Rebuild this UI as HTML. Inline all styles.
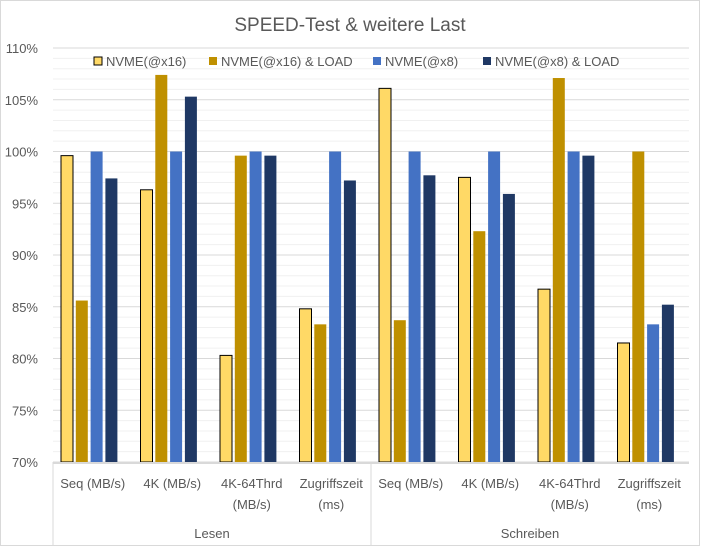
<!DOCTYPE html>
<html><head><meta charset="utf-8"><style>
body{margin:0;background:#fff;}
svg{display:block;font-family:"Liberation Sans",sans-serif;}
</style></head><body>
<svg id="c" width="701" height="548">
<rect x="0.5" y="0.5" width="699" height="545" fill="#fff" stroke="#d9d9d9"/>
<text x="350" y="31" text-anchor="middle" font-size="19" fill="#595959">SPEED-Test &amp; weitere Last</text>
<g id="grid"></g><g id="bars"></g><g id="axes"></g><g id="legend"></g>
</svg>
<script>
const categories=["Seq (MB/s)","4K (MB/s)","4K-64Thrd|(MB/s)","Zugriffszeit|(ms)","Seq (MB/s)","4K (MB/s)","4K-64Thrd|(MB/s)","Zugriffszeit|(ms)"];
const groups=["Lesen","Schreiben"];
const seriesNames=["NVME(@x16)","NVME(@x16) & LOAD","NVME(@x8)","NVME(@x8) & LOAD"];
const s1=[99.6,96.3,80.3,84.8,106.1,97.5,86.7,81.5];
const s2=[85.6,107.4,99.6,83.3,83.7,92.3,107.1,100];
const s3=[100,100,100,100,100,100,100,83.3];
const s4=[97.4,105.3,99.6,97.2,97.7,95.9,99.6,85.2];
const yTicks=[70,75,80,85,90,95,100,105,110];
const colors=["#FFD966","#BF9000","#4472C4","#1F3864"];
const NS="http://www.w3.org/2000/svg";
const X0=53,X1=689,Y0=462,Y1=48,YMIN=70,YMAX=110;
const cw=(X1-X0)/categories.length;
const y=v=>Y0-(v-YMIN)/(YMAX-YMIN)*(Y0-Y1);
const xc=i=>X0+i*cw;
function mk(tag,attrs,parent){const e=document.createElementNS(NS,tag);for(const k in attrs)e.setAttribute(k,attrs[k]);document.getElementById(parent).appendChild(e);return e;}
for(let v=YMIN;v<=YMAX;v++){
  const major=v%5===0;
  const l=mk('line',{x1:X0,x2:X1,y1:y(v),y2:y(v),stroke:major?'#d9d9d9':'#f0f0f0','stroke-width':1},'grid');
  
  
}
yTicks.forEach(v=>{
  const t=mk('text',{x:38,y:y(v)+5,'text-anchor':'end','font-size':13,fill:'#595959'},'axes');
  t.textContent=v+'%';
  
  
});
const series=[s1,s2,s3,s4];
series.forEach((s,si)=>{
  s.forEach((v,i)=>{
    const bx=xc(i)+8+si*14.8;
    const r=mk('rect',{x:bx,y:y(v),width:12,height:Y0-y(v),fill:colors[si]},'bars');
    if(si===0){r.setAttribute('stroke','#000');r.setAttribute('stroke-width','1');}
    
    
  });
});
const ax=mk('line',{x1:X0,x2:X1,y1:Y0+1,y2:Y0+1,stroke:'#d9d9d9','stroke-width':2},'axes');


[0,4].forEach(k=>{
  const l=mk('line',{x1:xc(k),x2:xc(k),y1:Y0,y2:545,stroke:'#d9d9d9','stroke-width':1},'axes');
  
  
});
categories.forEach((c,i)=>{
  c.split('|').forEach((line,j)=>{
    const t=mk('text',{x:xc(i)+cw/2,y:488+j*21,'text-anchor':'middle','font-size':13,fill:'#595959'},'axes');
    t.textContent=line;
    
    
  });
});
groups.forEach((g,i)=>{
  const t=mk('text',{x:xc(i*4)+cw*2,y:538,'text-anchor':'middle','font-size':13,fill:'#595959'},'axes');
  t.textContent=g;
  
  
});
const lx=[94,209,373,483];
seriesNames.forEach((n,i)=>{
  const r=mk('rect',{x:lx[i],y:57,width:8,height:8,fill:colors[i]},'legend');
  if(i===0){r.setAttribute('stroke','#000');r.setAttribute('stroke-width','1');}
  
  
  const t=mk('text',{x:lx[i]+12,y:66,'font-size':13,fill:'#595959'},'legend');
  t.textContent=n;
  
  
});
</script>
</body></html>
